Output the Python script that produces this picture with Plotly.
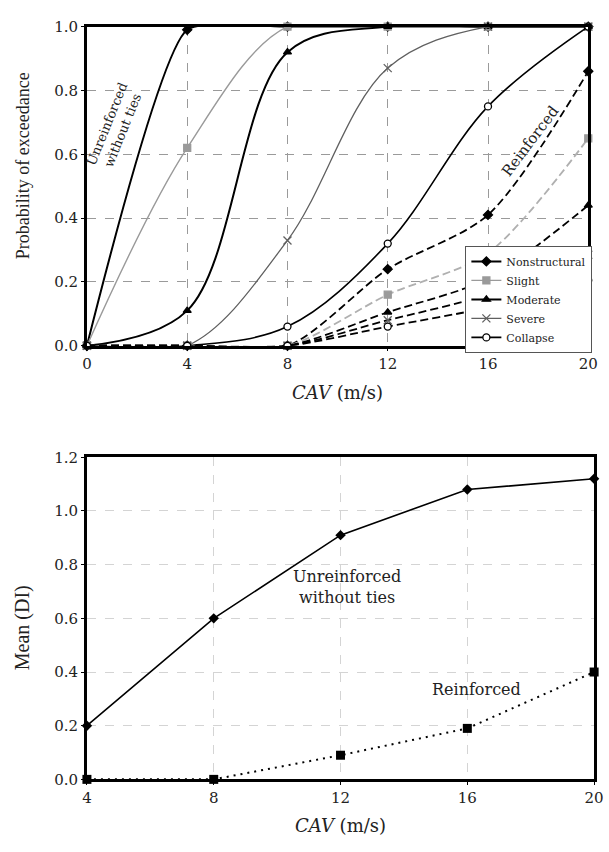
import plotly.graph_objects as go

# ---------------- data ----------------
cav_top = [0, 4, 8, 12, 16, 20]
states = ["Nonstructural", "Slight", "Moderate", "Severe", "Collapse"]

unreinforced = {
    "Nonstructural": [0.0, 0.99, 1.0, 1.0, 1.0, 1.0],
    "Slight":        [0.0, 0.62, 1.0, 1.0, 1.0, 1.0],
    "Moderate":      [0.0, 0.11, 0.92, 1.0, 1.0, 1.0],
    "Severe":        [0.0, 0.0, 0.33, 0.87, 1.0, 1.0],
    "Collapse":      [0.0, 0.0, 0.06, 0.32, 0.75, 1.0],
}
reinforced = {
    "Nonstructural": [0.0, 0.0, 0.0, 0.24, 0.41, 0.86],
    "Slight":        [0.0, 0.0, 0.0, 0.16, 0.29, 0.65],
    "Moderate":      [0.0, 0.0, 0.0, 0.105, 0.21, 0.44],
    "Severe":        [0.0, 0.0, 0.0, 0.08, 0.16, 0.285],
    "Collapse":      [0.0, 0.0, 0.0, 0.06, 0.12, 0.205],
}

cav_bot = [4, 8, 12, 16, 20]
mean_di_unreinforced = [0.20, 0.60, 0.91, 1.08, 1.12]
mean_di_reinforced = [0.0, 0.0, 0.09, 0.19, 0.40]

top_yticks = [0.0, 0.2, 0.4, 0.6, 0.8, 1.0]
top_xticks = [0, 4, 8, 12, 16, 20]
bot_yticks = [0.0, 0.2, 0.4, 0.6, 0.8, 1.0, 1.2]
bot_xticks = [4, 8, 12, 16, 20]

# ---------------- styles ----------------
FONT = "DejaVu Serif"
TFONT = "Liberation Serif"
style = {
    "Nonstructural": dict(color="black", width=2.0, symbol="diamond", msize=7, mcolor="black", mline="black", smooth=0.5),
    "Slight":        dict(color="#9a9a9a", width=1.4, symbol="square", msize=7, mcolor="#9a9a9a", mline="#9a9a9a", smooth=1.0),
    "Moderate":      dict(color="black", width=2.0, symbol="triangle-up", msize=7, mcolor="black", mline="black", smooth=1.0),
    "Severe":        dict(color="#606060", width=1.3, symbol="x-thin", msize=8, mcolor="#606060", mline="#606060", smooth=1.0),
    "Collapse":      dict(color="black", width=1.6, symbol="circle", msize=7, mcolor="white", mline="black", smooth=1.0),
}
re_color = {"Nonstructural": "black", "Slight": "#b0b0b0", "Moderate": "black",
            "Severe": "black", "Collapse": "black"}

fig = go.Figure()

for s in states:
    st = style[s]
    fig.add_trace(go.Scatter(
        x=cav_top, y=unreinforced[s], name=s, mode="lines+markers",
        line=dict(color=st["color"], width=st["width"], shape="spline", smoothing=st["smooth"]),
        marker=dict(symbol=st["symbol"], size=st["msize"], color=st["mcolor"],
                    line=dict(color=st["mline"], width=1.3)),
        cliponaxis=False, xaxis="x", yaxis="y", showlegend=True, legendgroup=s))

for s in states:
    st = style[s]
    fig.add_trace(go.Scatter(
        x=cav_top, y=reinforced[s], name=s, mode="lines+markers",
        line=dict(color=re_color[s], width=1.8, dash="8px,4px", shape="spline", smoothing=0.8),
        marker=dict(symbol=st["symbol"], size=st["msize"], color=st["mcolor"],
                    line=dict(color=st["mline"], width=1.3)),
        cliponaxis=False, xaxis="x", yaxis="y", showlegend=False, legendgroup=s))

fig.add_trace(go.Scatter(
    x=cav_bot, y=mean_di_unreinforced, mode="lines+markers", showlegend=False,
    line=dict(color="black", width=1.6),
    marker=dict(symbol="diamond", size=8, color="black"),
    cliponaxis=False, xaxis="x2", yaxis="y2"))
fig.add_trace(go.Scatter(
    x=cav_bot, y=mean_di_reinforced, mode="lines+markers", showlegend=False,
    line=dict(color="black", width=2.0, dash="2px,5px"),
    marker=dict(symbol="square", size=9, color="black"),
    cliponaxis=False, xaxis="x2", yaxis="y2"))

axis_common = dict(showline=True, mirror=True, linecolor="black", linewidth=2.5,
                   ticks="outside", ticklen=3, tickcolor="black",
                   tickfont=dict(family=FONT, size=15, color="#222"),
                   zeroline=False, showgrid=True)

W, H = 609, 852
fig.update_layout(
    width=W, height=H,
    margin=dict(l=0, r=0, t=0, b=0),
    paper_bgcolor="white", plot_bgcolor="white",
    font=dict(family=FONT, color="#222"),
    xaxis=dict(axis_common, domain=[84 / W, 598 / W], range=[0, 20], tickvals=top_xticks,
               ticktext=[str(v) for v in top_xticks],
               gridcolor="#9a9a9a", griddash="dash", gridwidth=1,
               title=dict(text="<i>CAV</i> (m/s)", font=dict(family=FONT, size=18), standoff=14),
               anchor="y"),
    yaxis=dict(axis_common, domain=[1 - 344 / H, 1 - 18 / H], range=[0, 1], tickvals=top_yticks,
               ticktext=[f"{v:.1f}" for v in top_yticks],
               gridcolor="#9a9a9a", griddash="dash", gridwidth=1,
               anchor="x"),
    xaxis2=dict(axis_common, domain=[84 / W, 604 / W], range=[4, 20], tickvals=bot_xticks,
                ticktext=[str(v) for v in bot_xticks],
                gridcolor="#d4d4d4", griddash="dash", gridwidth=1,
                title=dict(text="<i>CAV</i> (m/s)", font=dict(family=FONT, size=18), standoff=14),
                anchor="y2"),
    yaxis2=dict(axis_common, domain=[1 - 787 / H, 1 - 458 / H], range=[0, 1.2], tickvals=bot_yticks,
                ticktext=[f"{v:.1f}" for v in bot_yticks],
                gridcolor="#d4d4d4", griddash="dash", gridwidth=1,
                anchor="x2"),
    legend=dict(x=472 / W, y=1 - 242 / H, xanchor="left", yanchor="top",
                bgcolor="white", bordercolor="#555", borderwidth=1,
                font=dict(family=FONT, size=11, color="#222"),
                itemwidth=30, tracegroupgap=0),
    annotations=[
        dict(text="Probability of exceedance", x=18 / W, y=1 - 160 / H, xref="paper", yref="paper",
             xanchor="center", yanchor="middle",
             showarrow=False, textangle=-90, font=dict(family=TFONT, size=18, color="#222")),
        dict(text="Mean (DI)", x=18 / W, y=1 - 632 / H, xref="paper", yref="paper",
             xanchor="center", yanchor="middle",
             showarrow=False, textangle=-90, font=dict(family=TFONT, size=20, color="#222")),
        dict(text="Unreinforced<br>without ties", x=1.12, y=0.685, xref="x", yref="y",
             xanchor="center", yanchor="middle",
             showarrow=False, textangle=-68, font=dict(family=FONT, size=13, color="#222")),
        dict(text="Reinforced", x=17.7, y=0.64, xref="x", yref="y",
             xanchor="center", yanchor="middle",
             showarrow=False, textangle=-53, font=dict(family=FONT, size=15, color="#222")),
        dict(text="Unreinforced<br>without ties", x=12.2, y=0.715, xref="x2", yref="y2",
             xanchor="center", yanchor="middle",
             showarrow=False, font=dict(family=FONT, size=16, color="#222")),
        dict(text="Reinforced", x=16.3, y=0.335, xref="x2", yref="y2",
             xanchor="center", yanchor="middle",
             showarrow=False, font=dict(family=FONT, size=16, color="#222")),
    ],
)

fig.write_html("out.html")
